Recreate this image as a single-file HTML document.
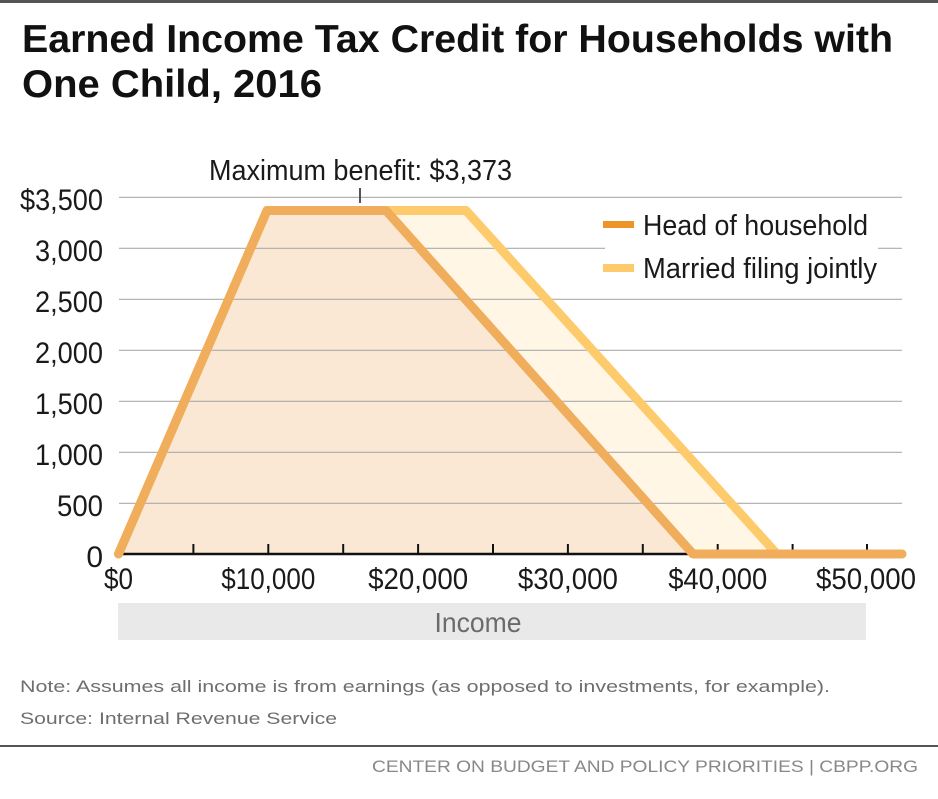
<!DOCTYPE html>
<html><head><meta charset="utf-8"><style>
html,body{margin:0;padding:0;background:#fff;}
svg{display:block;}
text{font-family:"Liberation Sans",Arial,sans-serif;}
</style></head><body>
<svg width="938" height="799" viewBox="0 0 938 799" xmlns="http://www.w3.org/2000/svg">
<rect x="0" y="0" width="938" height="799" fill="#fff"/>
<rect x="0" y="0" width="938" height="3" fill="#555"/>
<text x="22" y="52" font-size="39" font-weight="bold" fill="#111" textLength="871" lengthAdjust="spacingAndGlyphs">Earned Income Tax Credit for Households with</text>
<text x="22" y="97" font-size="39" font-weight="bold" fill="#111" textLength="300" lengthAdjust="spacingAndGlyphs">One Child, 2016</text>

<!-- fills -->
<polygon points="118.5,554 267,210.5 466,210.5 777,554" fill="#fff6e5"/>
<polygon points="118.5,554 267,210.5 386,210.5 693,554" fill="#fae8d4"/>

<!-- gridlines -->
<g stroke="#ababab" stroke-width="1.2">
<line x1="119" y1="197.3" x2="902" y2="197.3"/>
<line x1="119" y1="248.3" x2="902" y2="248.3"/>
<line x1="119" y1="299.3" x2="902" y2="299.3"/>
<line x1="119" y1="350.3" x2="902" y2="350.3"/>
<line x1="119" y1="401.3" x2="902" y2="401.3"/>
<line x1="119" y1="452.3" x2="902" y2="452.3"/>
<line x1="119" y1="503.3" x2="902" y2="503.3"/>
</g>

<!-- axis -->
<line x1="118" y1="554" x2="868" y2="554" stroke="#111" stroke-width="2.5"/>
<g stroke="#111" stroke-width="2">
<line x1="193.4" y1="544" x2="193.4" y2="554"/>
<line x1="268.3" y1="544" x2="268.3" y2="554"/>
<line x1="343.2" y1="544" x2="343.2" y2="554"/>
<line x1="418.1" y1="544" x2="418.1" y2="554"/>
<line x1="493" y1="544" x2="493" y2="554"/>
<line x1="567.9" y1="544" x2="567.9" y2="554"/>
<line x1="642.8" y1="544" x2="642.8" y2="554"/>
<line x1="717.7" y1="544" x2="717.7" y2="554"/>
<line x1="792.6" y1="544" x2="792.6" y2="554"/>
<line x1="867" y1="544" x2="867" y2="554"/>
</g>

<!-- lines -->
<polyline points="118.5,554 267,210.5 466,210.5 777,554 902,554" fill="none" stroke="#fecb6c" stroke-width="9" stroke-linejoin="round" stroke-linecap="round"/>
<polyline points="118.5,554 267,210.5 386,210.5 693,554 902,554" fill="none" stroke="#f0ad5c" stroke-width="9" stroke-linejoin="round" stroke-linecap="round"/>

<!-- max benefit annotation -->
<line x1="360" y1="188" x2="360" y2="203" stroke="#555" stroke-width="2"/>
<text x="209" y="180" font-size="29" fill="#1a1a1a" textLength="303" lengthAdjust="spacingAndGlyphs">Maximum benefit: $3,373</text>

<!-- y labels -->
<g font-size="30" fill="#1a1a1a" text-anchor="end">
<text x="103" y="210" textLength="83" lengthAdjust="spacingAndGlyphs">$3,500</text>
<text x="103" y="261" textLength="68" lengthAdjust="spacingAndGlyphs">3,000</text>
<text x="103" y="312" textLength="68" lengthAdjust="spacingAndGlyphs">2,500</text>
<text x="103" y="363" textLength="68" lengthAdjust="spacingAndGlyphs">2,000</text>
<text x="103" y="414" textLength="68" lengthAdjust="spacingAndGlyphs">1,500</text>
<text x="103" y="465" textLength="68" lengthAdjust="spacingAndGlyphs">1,000</text>
<text x="103" y="516" textLength="46" lengthAdjust="spacingAndGlyphs">500</text>
<text x="103" y="567">0</text>
</g>

<!-- x labels -->
<g font-size="30" fill="#1a1a1a" text-anchor="middle">
<text x="118.5" y="589" textLength="29" lengthAdjust="spacingAndGlyphs">$0</text>
<text x="268.3" y="589" textLength="94" lengthAdjust="spacingAndGlyphs">$10,000</text>
<text x="418.1" y="589" textLength="100" lengthAdjust="spacingAndGlyphs">$20,000</text>
<text x="567.9" y="589" textLength="100" lengthAdjust="spacingAndGlyphs">$30,000</text>
<text x="717.7" y="589" textLength="99" lengthAdjust="spacingAndGlyphs">$40,000</text>
<text x="866" y="589" textLength="100" lengthAdjust="spacingAndGlyphs">$50,000</text>
</g>

<!-- legend -->
<rect x="605" y="205" width="273" height="88" fill="#fff"/>
<rect x="603" y="221" width="31" height="7" fill="#ec9429"/>
<rect x="603" y="264" width="31" height="8" fill="#fecb6c"/>
<text x="643" y="235" font-size="29" fill="#1a1a1a" textLength="225" lengthAdjust="spacingAndGlyphs">Head of household</text>
<text x="643" y="278" font-size="29" fill="#1a1a1a" textLength="234" lengthAdjust="spacingAndGlyphs">Married filing jointly</text>

<!-- income band -->
<rect x="118" y="603" width="748" height="37" fill="#e9e9e9"/>
<text x="478" y="632" font-size="28" fill="#6b6b6b" text-anchor="middle" textLength="87" lengthAdjust="spacingAndGlyphs">Income</text>

<!-- notes -->
<text x="20" y="692" font-size="17" fill="#6e6e6e" textLength="810" lengthAdjust="spacingAndGlyphs">Note: Assumes all income is from earnings (as opposed to investments, for example).</text>
<text x="20" y="724" font-size="17" fill="#6e6e6e" textLength="317" lengthAdjust="spacingAndGlyphs">Source: Internal Revenue Service</text>

<rect x="0" y="745" width="938" height="2" fill="#555"/>
<text x="918" y="772" font-size="17" fill="#888" text-anchor="end" textLength="546" lengthAdjust="spacingAndGlyphs">CENTER ON BUDGET AND POLICY PRIORITIES | CBPP.ORG</text>
</svg>
</body></html>
